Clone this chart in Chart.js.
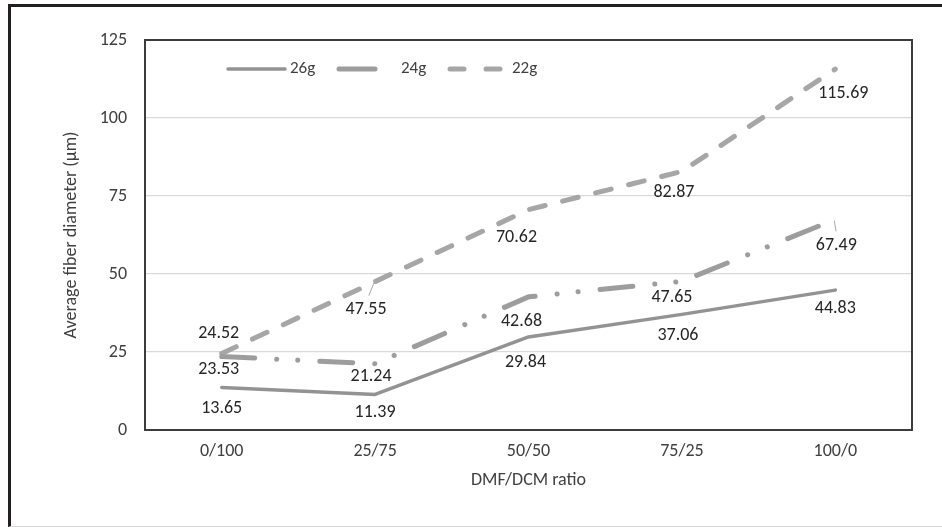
<!DOCTYPE html>
<html>
<head>
<meta charset="utf-8">
<script src="https://cdn.jsdelivr.net/npm/chart.js@4.4.1/dist/chart.umd.min.js"></script>
<style>
  body { margin: 0; background: #fff; }
  #wrap { position: relative; width: 942px; height: 527px; }
  #frame {
    position: absolute; left: 8px; top: 4px; width: 940px; height: 519px;
    border-left: 3px solid #231f20; border-top: 3px solid #231f20;
    border-bottom: 1px solid #d9d9d9; pointer-events: none;
  }
</style>
</head>
<body>
<div id="wrap"><canvas id="myChart"></canvas><div id="frame"></div></div>
<script>
// data
let ratios = ["0/100", "25/75", "50/50", "75/25", "100/0"];
let g26 = [13.65, 11.39, 29.84, 37.06, 44.83];
let g24 = [23.53, 21.24, 42.68, 47.65, 67.49];
let g22 = [24.52, 47.55, 70.62, 82.87, 115.69];
let yTicks = [0, 25, 50, 75, 100, 125];

// where each value label sits relative to its point (dx, dy)
let labelOffsets = [
    [[0, 21], [0, 18], [-3, 26], [-4, 21], [0, 18]],
    [[-3, 13], [-4, 13], [-7, 25], [-10, 16], [1, 26]],
    [[-3, -20], [-9, 28], [-12, 28], [-8, 21], [8, 24]]
];
// labels that were dragged away get a small leader line: [dataset, point]
let leaders = [[2, 1], [1, 4]];

Chart.defaults.font.family = 'Carlito, Lato, sans-serif';
Chart.defaults.color = '#404040';

// box round the plot area
let plotBox = {
    id: 'plotBox',
    beforeDatasetsDraw(chart) {
        let a = chart.chartArea, c = chart.ctx;
        c.save();
        c.strokeStyle = '#3c3c3c';
        c.lineWidth = 2;
        c.strokeRect(a.left, a.top, a.right - a.left, a.bottom - a.top);
        c.restore();
    }
};

// value labels next to the points
let valueLabels = {
    id: 'valueLabels',
    afterDatasetsDraw(chart) {
        let c = chart.ctx;
        c.save();
        c.strokeStyle = '#a6a6a6';
        c.lineWidth = 1;
        leaders.forEach(([i, j]) => {
            let pt = chart.getDatasetMeta(i).data[j];
            let off = labelOffsets[i][j];
            c.beginPath();
            c.moveTo(pt.x - 1, pt.y + 1);
            c.lineTo(pt.x + off[0] * 0.7, pt.y + off[1] - 14);
            c.stroke();
        });
        c.font = '18px Carlito, Lato, sans-serif';
        c.fillStyle = '#262626';
        c.textAlign = 'center';
        c.textBaseline = 'middle';
        chart.data.datasets.forEach((ds, i) => {
            chart.getDatasetMeta(i).data.forEach((pt, j) => {
                let off = labelOffsets[i][j];
                c.fillText(ds.data[j].toFixed(2), pt.x + off[0], pt.y + off[1]);
            });
        });
        c.restore();
    }
};

// legend drawn inside the plot, line samples with the series' dashes
let innerLegend = {
    id: 'innerLegend',
    afterDraw(chart) {
        let a = chart.chartArea, c = chart.ctx;
        let x = a.left + 83, y = a.top + 29;
        c.save();
        c.font = '17px Carlito, Lato, sans-serif';
        c.textBaseline = 'middle';
        chart.data.datasets.forEach(ds => {
            c.strokeStyle = ds.borderColor;
            c.lineWidth = ds.borderWidth;
            c.lineCap = 'round';
            c.setLineDash(ds.legendDash);
            c.beginPath();
            c.moveTo(x, y);
            c.lineTo(x + 57, y);
            c.stroke();
            c.setLineDash([]);
            c.fillStyle = '#404040';
            c.fillText(ds.label, x + 62, y);
            x += 111;
        });
        c.restore();
    }
};

let ctx = document.getElementById("myChart").getContext('2d');

let myChart = new Chart(ctx, {
    type: 'line',
    data: {
        labels: ratios,
        datasets: [{
            label: '26g',
            data: g26,
            borderColor: '#939393',
            borderWidth: 3.5,
            borderCapStyle: 'round',
            legendDash: []
        }, {
            label: '24g',
            data: g24,
            borderColor: '#9d9d9d',
            borderWidth: 5,
            borderCapStyle: 'round',
            borderDash: [33, 22, 0.1, 21, 0.1, 22],
            legendDash: [36, 60]
        }, {
            label: '22g',
            data: g22,
            borderColor: '#a6a6a6',
            borderWidth: 5,
            borderCapStyle: 'round',
            borderDash: [16, 18],
            legendDash: [14, 22]
        }]
    },
    options: {
        responsive: true,
        maintainAspectRatio: false,
        animation: false,
        layout: { padding: { left: 10, right: 30, top: 40, bottom: 7 } },
        elements: {
            point: { radius: 0, hoverRadius: 0 },
            line: { tension: 0, borderJoinStyle: 'round', fill: false }
        },
        plugins: {
            legend: { display: false },
            tooltip: { enabled: false }
        },
        scales: {
            x: {
                offset: true,
                grid: { display: false, drawTicks: false },
                border: { display: false },
                ticks: { padding: 11, font: { size: 18 }, color: '#404040' },
                title: {
                    display: true,
                    text: 'DMF/DCM ratio',
                    font: { size: 18 },
                    color: '#404040',
                    padding: { top: 0, bottom: 29 }
                },
                afterFit(scale) { scale.height = 90; }
            },
            y: {
                min: 0,
                max: 125,
                afterBuildTicks(scale) { scale.ticks = yTicks.map(v => ({ value: v })); },
                grid: { color: '#d9d9d9', lineWidth: 1.3, drawTicks: false },
                border: { display: false },
                ticks: { padding: 18, font: { size: 18 }, color: '#404040' },
                title: {
                    display: true,
                    text: 'Average fiber diameter (µm)',
                    font: { size: 18 },
                    color: '#404040',
                    padding: { top: 51, bottom: 0 }
                },
                afterFit(scale) { scale.width = 135; }
            }
        }
    },
    plugins: [plotBox, valueLabels, innerLegend]
});
</script>
</body>
</html>
